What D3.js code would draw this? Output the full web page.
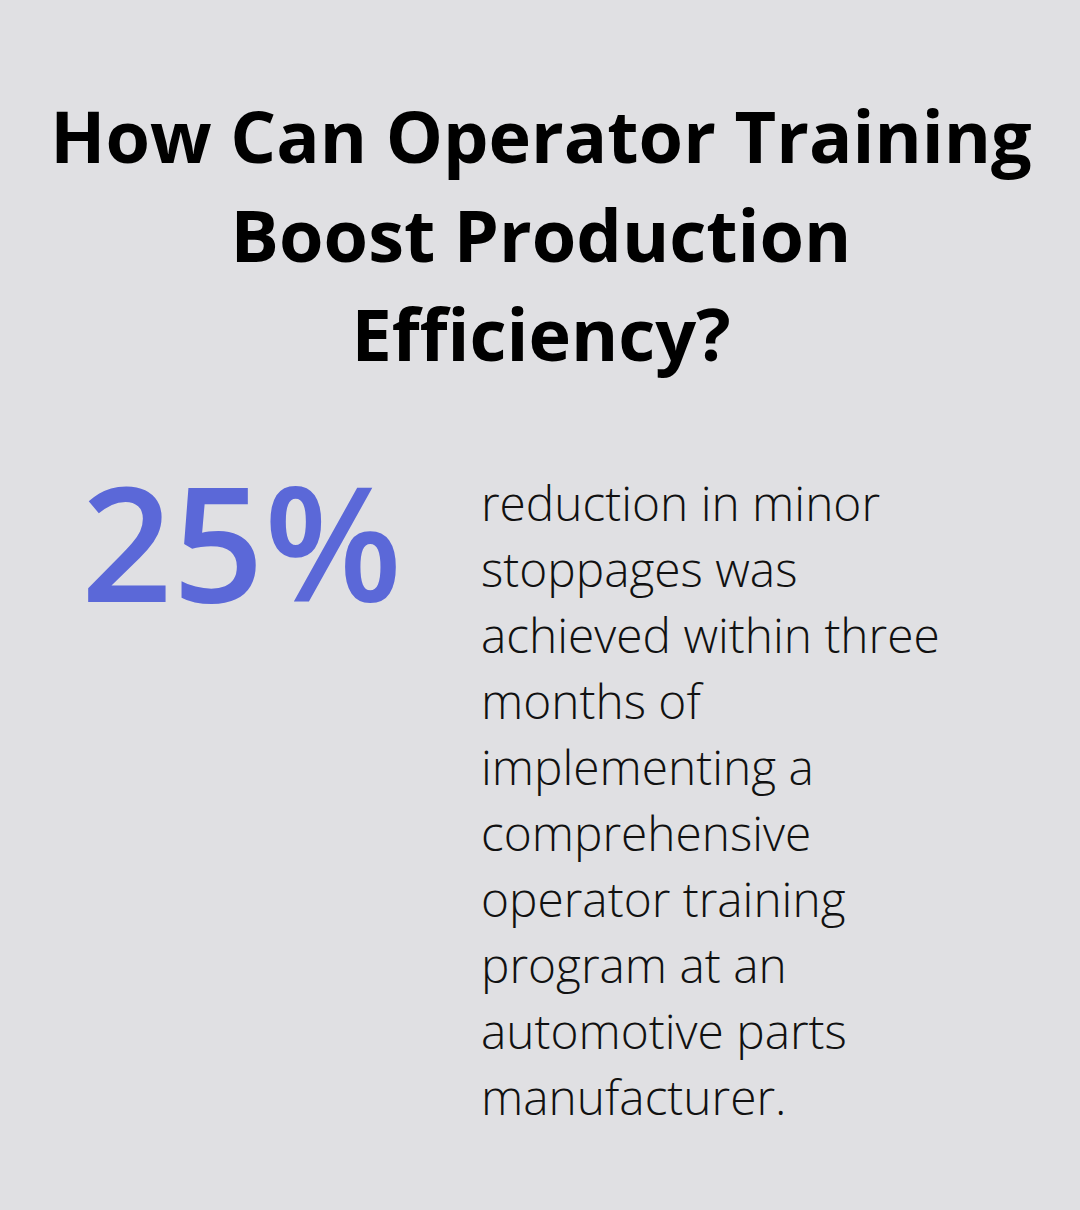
<!DOCTYPE html>
<html>
<head>
<meta charset="utf-8">
<script src="https://cdn.jsdelivr.net/npm/d3@7"></script>
<style>
	body { margin: 0; background: #e0e0e3; }
</style>
</head>
<body>
<script>
var titleLines = ["How Can Operator Training", "Boost Production", "Efficiency?"];
var statValue = ["25%"];
var bodyLines = ["reduction in minor", "stoppages was", "achieved within three", "months of",
	"implementing a", "comprehensive", "operator training", "program at an",
	"automotive parts", "manufacturer."];

var width = 1080;
var height = 1210;

var svg = d3.select('body').append('svg')
	.attr('width', width)
	.attr('height', height);

svg.append('rect')
	.attr('width', width)
	.attr('height', height)
	.attr('fill', '#e0e0e3');

// title
var titleY = d3.scalePoint().domain(d3.range(titleLines.length)).range([163, 361]);
svg.selectAll('text.title')
	.data(titleLines)
	.enter().append('text')
	.attr('class', 'title')
	.attr('x', width / 2 + 1)
	.attr('y', function(d, i) { return titleY(i); })
	.attr('text-anchor', 'middle')
	.attr('font-family', 'Open Sans')
	.attr('font-weight', 700)
	.attr('font-size', '72px')
	.attr('fill', '#000')
	.text(function(d) { return d; });

// big number
svg.selectAll('text.stat')
	.data(statValue)
	.enter().append('text')
	.attr('class', 'stat')
	.attr('x', 81)
	.attr('y', 602)
	.attr('font-family', 'Open Sans')
	.attr('font-weight', 600)
	.attr('font-size', '160px')
	.attr('fill', '#5b68d8')
	.text(function(d) { return d; });

// description
var bodyY = d3.scalePoint().domain(d3.range(bodyLines.length)).range([521, 1115]);
svg.selectAll('text.body')
	.data(bodyLines)
	.enter().append('text')
	.attr('class', 'body')
	.attr('x', 481)
	.attr('y', function(d, i) { return bodyY(i); })
	.attr('font-family', 'Open Sans')
	.attr('font-weight', 300)
	.attr('font-size', '47.8px')
	.attr('fill', '#111')
	.text(function(d) { return d; });
</script>
</body>
</html>
